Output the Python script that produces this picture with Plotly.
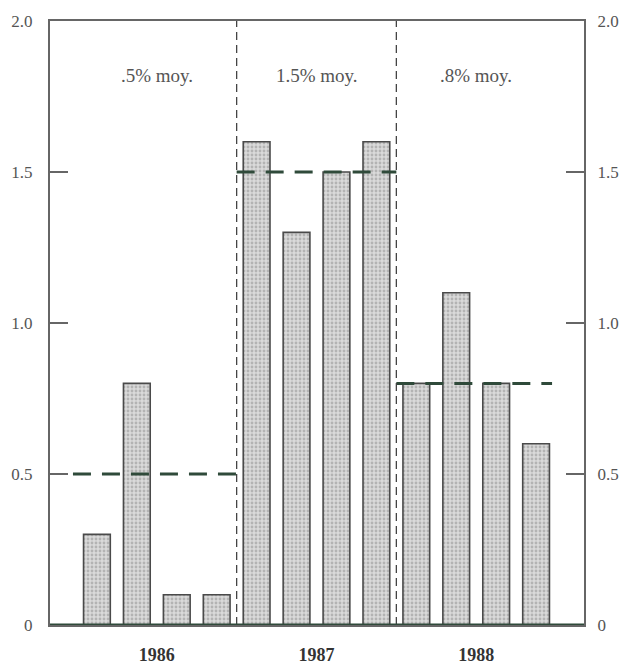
import plotly.graph_objects as go

# Data
quarters = list(range(12))
values = [0.3, 0.8, 0.1, 0.1, 1.6, 1.3, 1.5, 1.6, 0.8, 1.1, 0.8, 0.6]
years = ["1986", "1987", "1988"]
averages = [0.5, 1.5, 0.8]
avg_labels = [".5% moy.", "1.5% moy.", ".8% moy."]
y_ticks = [0, 0.5, 1.0, 1.5, 2.0]
y_ticktext = ["0", "0.5", "1.0", "1.5", "2.0"]

FONT = "Liberation Serif"
GREEN = "#2f4a3a"

fig = go.Figure()
fig.add_trace(go.Bar(
    x=quarters, y=values, width=0.67,
    marker=dict(color="#d4d4d4", line=dict(color="#4a4a4a", width=1.6),
                pattern=dict(shape=".", fgcolor="#8c8c8c", bgcolor="#dadada", size=4, solidity=0.4)),
    showlegend=False, hoverinfo="skip"))

# average dashed lines per year
avg_x = [[-0.6, 3.5], [3.5, 7.5], [7.5, 11.4]]
for xs, a in zip(avg_x, averages):
    fig.add_trace(go.Scatter(x=xs, y=[a, a], mode="lines",
                             line=dict(color=GREEN, width=3, dash="18px,11px"),
                             showlegend=False, hoverinfo="skip"))

# year separators
for xv in [3.5, 7.5]:
    fig.add_shape(type="line", x0=xv, x1=xv, y0=0, y1=2.0, xref="x", yref="y",
                  line=dict(color="#444", width=1.3, dash="8px,5px"))

# baseline
fig.add_shape(type="line", x0=-1.175, x1=12.2, y0=0, y1=0, xref="x", yref="y",
              line=dict(color=GREEN, width=3))

# avg labels
for i, t in enumerate(avg_labels):
    fig.add_annotation(x=1.5 + 4 * i, y=1.82, text=t, showarrow=False,
                       font=dict(family=FONT, size=19, color="#555"))

tickfont = dict(family=FONT, size=17, color="#555")
fig.update_layout(
    width=622, height=658,
    margin=dict(l=42, r=46, t=13, b=41, autoexpand=False),
    paper_bgcolor="white", plot_bgcolor="white",
    xaxis=dict(range=[-1.175, 12.2], tickvals=[1.5, 5.5, 9.5], ticktext=years,
               showgrid=False, zeroline=False, showline=True, linecolor="#666", linewidth=2,
               mirror=True, ticks="", ticklabelstandoff=12, automargin=False,
               tickfont=dict(family=FONT, size=18, color="#333", weight="bold")),
    yaxis=dict(range=[0, 2.0], tickvals=y_ticks, ticktext=y_ticktext,
               showgrid=False, zeroline=False, showline=True, linecolor="#666", linewidth=2,
               ticks="inside", ticklen=18, tickwidth=2, tickcolor="#666",
               ticklabelstandoff=12, automargin=False, tickfont=tickfont),
    yaxis2=dict(range=[0, 2.0], tickvals=y_ticks, ticktext=y_ticktext, overlaying="y",
                side="right", showgrid=False, zeroline=False, showline=True, linecolor="#666",
                linewidth=2, ticks="inside", ticklen=18, tickwidth=2, tickcolor="#666",
                ticklabelstandoff=8, automargin=False, tickfont=tickfont),
)
fig.add_trace(go.Scatter(x=[None], y=[None], yaxis="y2", showlegend=False, hoverinfo="skip"))

fig.write_html("out.html")
